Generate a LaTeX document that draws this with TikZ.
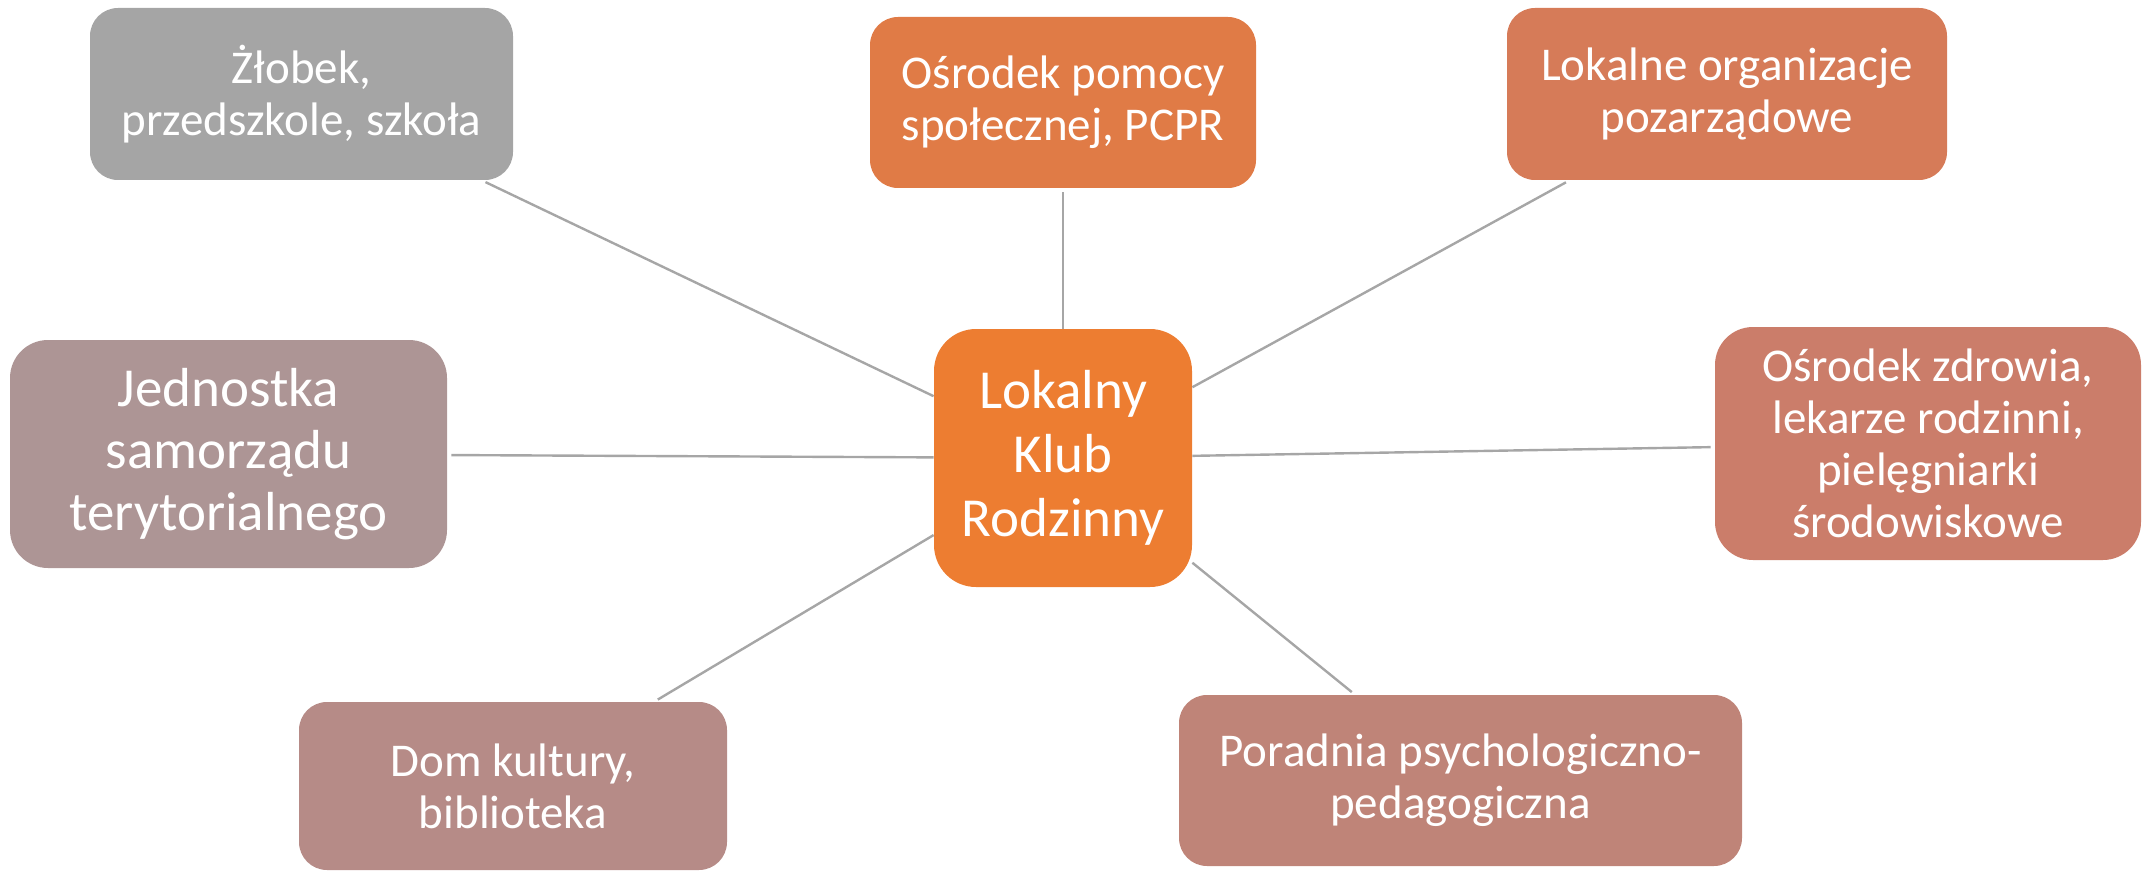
\documentclass[tikz,border=0pt]{standalone}
\usepackage{fontspec}
\setmainfont{Carlito}
\definecolor{klubc}{HTML}{ED7D31}
\definecolor{opsc}{HTML}{E07B46}
\definecolor{ngoc}{HTML}{D67B58}
\definecolor{zdrc}{HTML}{CB7D6A}
\definecolor{porc}{HTML}{BF8478}
\definecolor{domc}{HTML}{B68B87}
\definecolor{jstc}{HTML}{AD9595}
\definecolor{zlbc}{HTML}{A5A5A5}
\definecolor{linec}{HTML}{A6A6A6}
\tikzset{
  box/.style={fill=#1, text=white, rounded corners=14pt, align=center, inner sep=0pt,
    font=\fontsize{23.5}{26}\selectfont},
  bigbox/.style={box=#1, rounded corners=19pt, font=\fontsize{27.5}{31}\selectfont},
  link/.style={draw=linec, line width=1.2pt, shorten <=2pt},
}
\begin{document}
\begin{tikzpicture}[x=0.5pt,y=-0.5pt]
    \useasboundingbox (0,0) rectangle (2148,872);
    % centre
    \node[bigbox=klubc, rounded corners=21pt, minimum width=129pt, minimum height=129pt,
      font=\fontsize{27.5}{32}\selectfont]
      (klub) at (1063,458) {Lokalny\\Klub\\Rodzinny};
    % partners, clockwise from the top
    \node[box=opsc, minimum width=193pt, minimum height=85.5pt]
      (ops) at (1063,102.5) {Ośrodek pomocy\\społecznej, PCPR};
    \node[box=ngoc, minimum width=220pt, minimum height=86pt]
      (ngo) at (1727,94) {Lokalne organizacje\\pozarządowe};
    \node[box=zdrc, rounded corners=19pt, minimum width=213pt, minimum height=116.5pt]
      (zdrowie) at (1928,443.5) {Ośrodek zdrowia,\\lekarze rodzinni,\\pielęgniarki\\środowiskowe};
    \node[box=porc, minimum width=281.5pt, minimum height=85.5pt]
      (poradnia) at (1460.5,780.5) {Poradnia psychologiczno-\\pedagogiczna};
    \node[box=domc, minimum width=214pt, minimum height=84pt]
      (dom) at (513,786) {Dom kultury,\\biblioteka};
    \node[bigbox=jstc, minimum width=218.5pt, minimum height=114pt]
      (jst) at (228.5,454) {Jednostka\\samorządu\\terytorialnego};
    \node[box=zlbc, minimum width=211.5pt, minimum height=86pt]
      (zlobek) at (301.5,94) {Żłobek,\\przedszkole, szkoła};
    % connectors
    \foreach \n in {ops,ngo,zdrowie,poradnia,dom,jst,zlobek}
      \draw[link] (\n) -- (klub);
\end{tikzpicture}
\end{document}
